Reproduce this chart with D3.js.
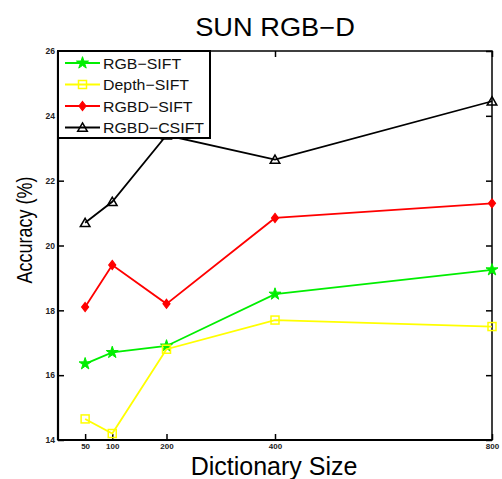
<!DOCTYPE html>
<html><head><meta charset="utf-8">
<script src="https://cdn.jsdelivr.net/npm/d3@7"></script>
<style>body{margin:0;background:#fff}svg{display:block}</style>
</head><body>
<script>
const dictSizes = [50, 100, 200, 400, 800];
const xTicks = [50, 100, 200, 400, 800];
const yTicks = [14, 16, 18, 20, 22, 24, 26];
const rgbSift = [16.35, 16.7, 16.9, 18.5, 19.25];
const depthSift = [14.65, 14.2, 16.8, 17.7, 17.5];
const rgbdSift = [18.1, 19.4, 18.2, 20.85, 21.3];
const rgbdCsift = [20.7, 21.35, 23.4, 22.65, 24.45];
const seriesNames = ["RGB-SIFT", "Depth-SIFT", "RGBD-SIFT", "RGBD-CSIFT"];
const seriesColors = ["#00ee00", "#ffff00", "#ff0000", "#000000"];
const seriesValues = [rgbSift, depthSift, rgbdSift, rgbdCsift];
const seriesMarkers = ["star", "square", "diamond", "triangle"];

const W = 502, H = 479;
const m = {l: 58, r: 10, t: 51, b: 39};
const svg = d3.select("body").append("svg").attr("width", W).attr("height", H);
const x = d3.scaleLinear().domain([0, 800]).range([m.l, W - m.r]);
const y = d3.scaleLinear().domain([14, 26]).range([H - m.b, m.t]);

const font = "'Liberation Sans', Arial, Helvetica, sans-serif";

const x0 = x.range()[0], x1 = x.range()[1], y0 = y.range()[0], y1 = y.range()[1];
svg.append("rect").attr("x", x0).attr("y", y1).attr("width", x1 - x0).attr("height", y0 - y1)
  .attr("fill", "none").attr("stroke", "#000").attr("stroke-width", 1.5);
svg.append("line").attr("x1", x0).attr("x2", x0).attr("y1", y1).attr("y2", y0).attr("stroke", "#000").attr("stroke-width", 2.2);
svg.append("line").attr("x1", x0).attr("x2", x1).attr("y1", y0).attr("y2", y0).attr("stroke", "#000").attr("stroke-width", 2.2);

const tl = 6;
const ax = svg.append("g").attr("transform", `translate(0,${y0})`)
  .call(d3.axisBottom(x).tickValues(xTicks).tickSize(-tl).tickPadding(3).tickFormat(d3.format("d")));
ax.select(".domain").remove();
ax.selectAll("line").attr("stroke-width", 1.5);
ax.selectAll("text").attr("font-family", font).attr("font-size", 8).attr("font-weight", "bold").attr("fill", "#222");
const axt = svg.append("g").attr("transform", `translate(0,${y1})`)
  .call(d3.axisTop(x).tickValues(xTicks).tickSize(-tl).tickFormat(""));
axt.select(".domain").remove(); axt.selectAll("line").attr("stroke-width", 1.5);

const ay = svg.append("g").attr("transform", `translate(${x0},0)`)
  .call(d3.axisLeft(y).tickValues(yTicks).tickSize(-tl).tickPadding(3).tickFormat(d3.format("d")));
ay.select(".domain").remove();
ay.selectAll("line").attr("stroke-width", 1.5);
ay.selectAll("text").attr("font-family", font).attr("font-size", 8.5).attr("font-weight", "bold").attr("fill", "#222");
const ayr = svg.append("g").attr("transform", `translate(${x1},0)`)
  .call(d3.axisRight(y).tickValues(yTicks).tickSize(-tl).tickFormat(""));
ayr.select(".domain").remove(); ayr.selectAll("line").attr("stroke-width", 1.5);

function marker(g, type, color, cx, cy) {
  if (type === "star") {
    g.append("path").attr("d", d3.symbol(d3.symbolStar, 45)()).attr("transform", `translate(${cx},${cy})`)
      .attr("fill", color).attr("stroke", color).attr("stroke-width", 1);
  } else if (type === "square") {
    g.append("rect").attr("x", cx - 4).attr("y", cy - 4).attr("width", 8).attr("height", 8)
      .attr("fill", "none").attr("stroke", color).attr("stroke-width", 1.5);
  } else if (type === "diamond") {
    g.append("path").attr("d", `M${cx},${cy - 4.5}L${cx + 3.5},${cy}L${cx},${cy + 4.5}L${cx - 3.5},${cy}Z`)
      .attr("fill", color).attr("stroke", color).attr("stroke-width", 1.2);
  } else {
    g.append("path").attr("d", d3.symbol(d3.symbolTriangle, 40)()).attr("transform", `translate(${cx},${cy + 1})`)
      .attr("fill", "none").attr("stroke", color).attr("stroke-width", 1.5);
  }
}

const line = d3.line().x(d => x(d[0])).y(d => y(d[1]));
seriesValues.forEach((vals, i) => {
  const pts = dictSizes.map((d, j) => [d, vals[j]]);
  const g = svg.append("g");
  g.append("path").attr("d", line(pts)).attr("fill", "none").attr("stroke", seriesColors[i]).attr("stroke-width", 1.8);
  pts.forEach(p => marker(g, seriesMarkers[i], seriesColors[i], x(p[0]), y(p[1])));
});

// legend
const lg = svg.append("g");
lg.append("rect").attr("x", x0).attr("y", y1).attr("width", 152).attr("height", 87)
  .attr("fill", "#fff").attr("stroke", "#000").attr("stroke-width", 2);
seriesNames.forEach((n, i) => {
  const ly = y1 + 12 + i * 21.5;
  lg.append("line").attr("x1", x0 + 7).attr("x2", x0 + 42).attr("y1", ly).attr("y2", ly)
    .attr("stroke", seriesColors[i]).attr("stroke-width", 1.8);
  marker(lg, seriesMarkers[i], seriesColors[i], x0 + 24.5, ly);
  lg.append("text").attr("transform", `translate(${x0 + 45},${ly + 5.5}) scale(1.06,1)`).text(n.replace("-", "\u2212"))
    .attr("font-family", font).attr("font-size", 15).attr("fill", "#111");
});

// title & labels
svg.append("text").attr("transform", `translate(${(x0 + x1) / 2},36) scale(1.09,1)`).attr("text-anchor", "middle")
  .attr("font-family", font).attr("font-size", 25).text("SUN RGB\u2212D");
svg.append("text").attr("x", 274).attr("y", 474.5).attr("text-anchor", "middle")
  .attr("font-family", font).attr("font-size", 25).text("Dictionary Size");
svg.append("text").attr("transform", `translate(32,230) rotate(-90) scale(0.9,1.12)`).attr("text-anchor", "middle")
  .attr("font-family", font).attr("font-size", 20).text("Accuracy (%)");
</script>
</body></html>
